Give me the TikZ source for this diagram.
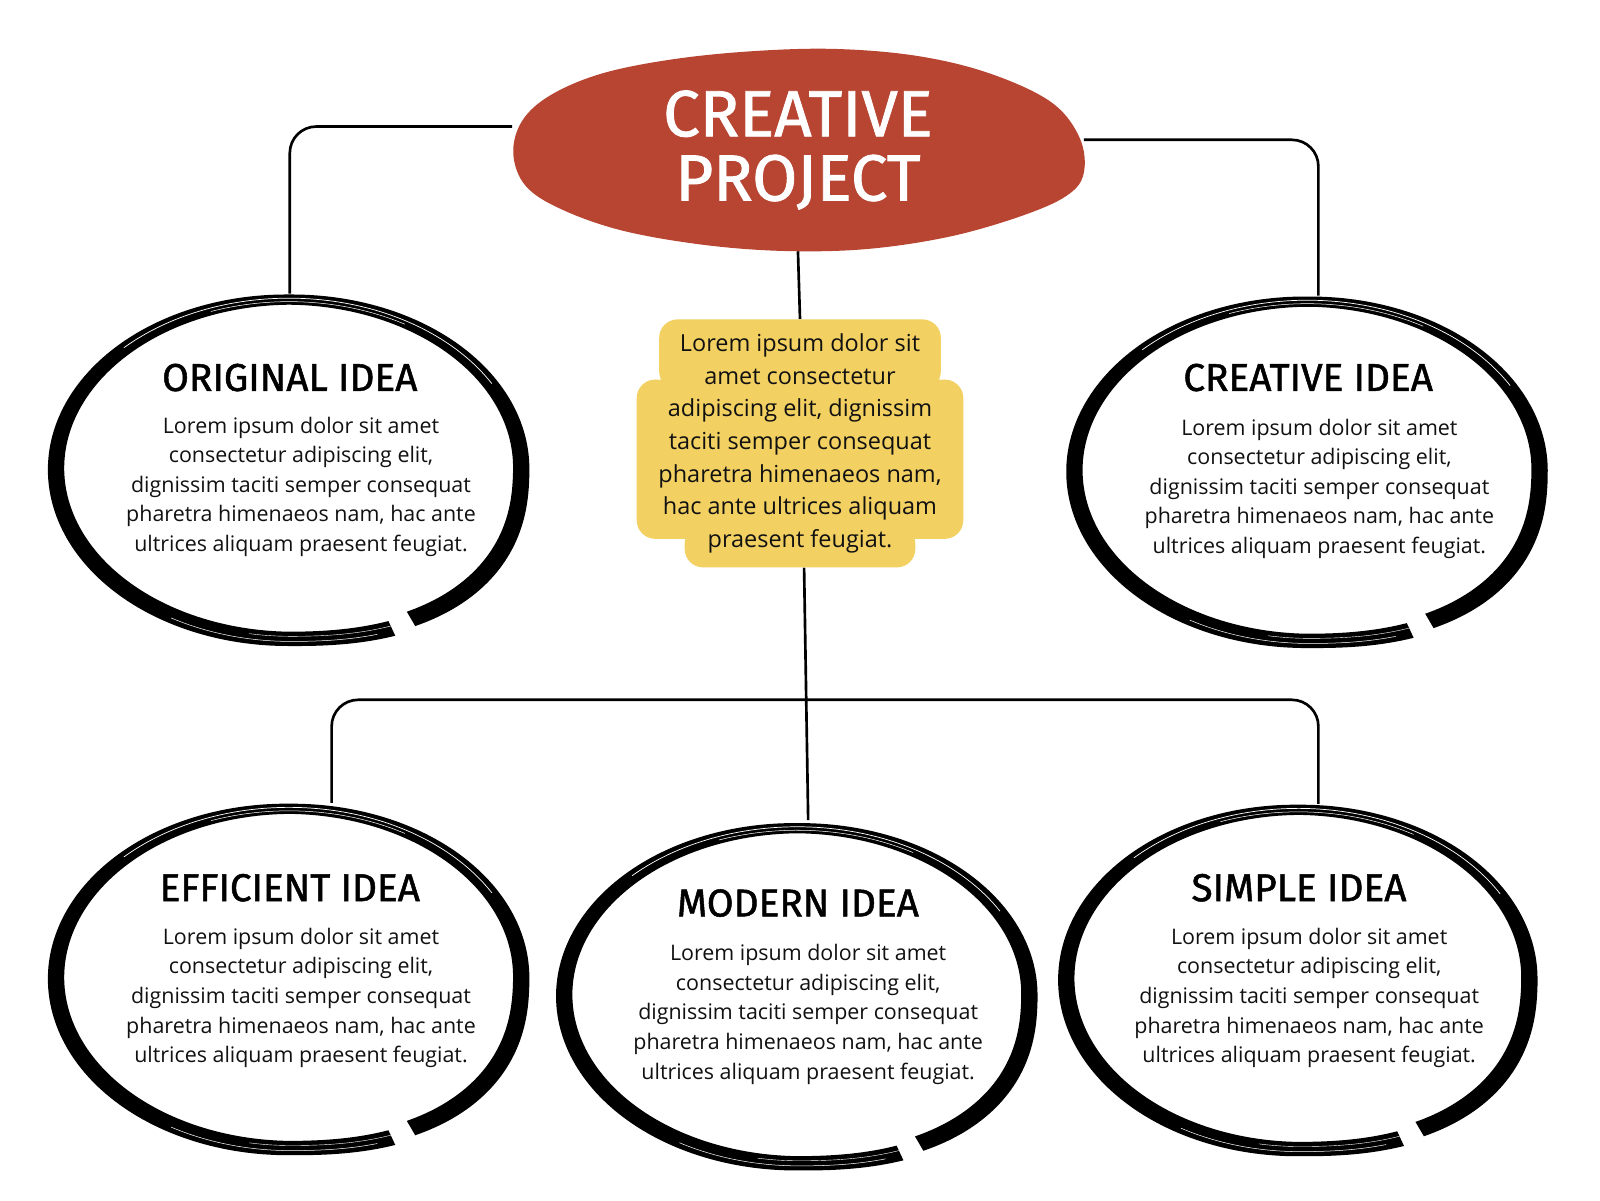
\documentclass[tikz,border=0pt]{standalone}
\usepackage{fontspec}
\setmainfont{Open Sans}
\newfontfamily\ttlfont[FakeBold=1.3]{Fira Sans}
\usetikzlibrary{shapes.geometric}
\definecolor{blobred}{HTML}{B84532}
\definecolor{boxyellow}{HTML}{F2D062}
\definecolor{inkblack}{HTML}{111111}
\newcommand\brushring[4]{%
  \fill[black] plot[domain=68:422,samples=240,variable=\t]
   ({#1+(#3*rsp(\t)+rhw(\t))*rfx(\t)},{#2+(#4*rsp(\t)+rhw(\t))*rfy(\t)})
   -- plot[domain=422:68,samples=240,variable=\t]
   ({#1+(#3*rsp(\t)-rhw(\t))*rfx(\t)},{#2+(#4*rsp(\t)-rhw(\t))*rfy(\t)})
   -- cycle;
  \draw[white,line width=0.7pt] plot[domain=225:330,samples=80,variable=\t]
   ({#1+(#3*rsp(\t)+1.4)*rfx(\t)},{#2+(#4*rsp(\t)+1.4)*rfy(\t)});
  \draw[white,line width=0.5pt] plot[domain=250:300,samples=40,variable=\t]
   ({#1+(#3*rsp(\t)-2)*rfx(\t)},{#2+(#4*rsp(\t)-2)*rfy(\t)});
  \draw[white,line width=0.5pt] plot[domain=72:120,samples=40,variable=\t]
   ({#1+(#3*rsp(\t)+2.5)*rfx(\t)},{#2+(#4*rsp(\t)+2.5)*rfy(\t)});
  \draw[white,line width=0.4pt] plot[domain=68:100,samples=30,variable=\t]
   ({#1+(#3*rsp(\t)-2.5)*rfx(\t)},{#2+(#4*rsp(\t)-2.5)*rfy(\t)});
}
\begin{document}
\begin{tikzpicture}[x=1pt,y=-1pt,
  declare function={
    rpw(\t)=1-0.15*(cos(\t)>0)*(sin(\t)>0);
    rfx(\t)=cos(\t)*(abs(cos(\t))+0.001)^(rpw(\t)-1);
    rfy(\t)=sin(\t)*(abs(sin(\t))+0.001)^(rpw(\t)-1);
    rsp(\t)=1+0.02*(422-\t)/354;
    rhw(\t)=6+2*abs(cos(\t))+sin(\t);
  },
  conn/.style={line width=2.6pt,black,rounded corners=26pt},
  ringnode/.style={ellipse,inner sep=0pt,minimum width=468pt,minimum height=342pt},
  ttl/.style={font=\ttlfont\fontsize{38}{40}\selectfont,inner sep=0pt,text=black},
  body/.style={font=\fontsize{21}{29}\selectfont,align=center,inner sep=0pt,text=inkblack}]
\fill[white] (0,0) rectangle (1568,1176);
\useasboundingbox (0,0) rectangle (1568,1176);

% nodes (invisible frames)
\node[ellipse,inner sep=0pt,minimum width=560pt,minimum height=198pt] (proj) at (782,147) {};
\node[inner sep=0pt,minimum width=320pt,minimum height=243pt] (desc) at (784,434.5) {};
\node[ringnode] (orig) at (284,459) {};
\node[ringnode] (crea) at (1282,461) {};
\node[ringnode] (effi) at (284,958) {};
\node[ringnode] (mode) at (782,975) {};
\node[ringnode,minimum width=465pt] (simp) at (1273,959) {};

% connectors
\draw[conn] ([yshift=23pt]proj.west) -| (orig.north);
\draw[conn] ([yshift=10pt]proj.east) -| ([xshift=10pt]crea.north);
\draw[conn] (proj.south) -- (desc.north);
\draw[conn] ([xshift=4pt]desc.south) -- ([xshift=10pt]mode.north);
\draw[conn] ([xshift=41pt]effi.north) -- ++(0,-101) -| ([xshift=19pt]simp.north);

% red blob
\fill[blobred] plot[smooth cycle,tension=0.6] coordinates {
 (503,150) (512,118) (540,93) (590,72) (660,58) (740,50) (820,48) (900,55)
 (970,72) (1030,100) (1058,135) (1062,170) (1045,192) (1000,212) (930,232)
 (850,244) (770,246) (690,240) (610,226) (550,205) (515,182)};
\node[font=\ttlfont\fontsize{64}{63}\selectfont,text=white,align=center,inner sep=0pt]
  (projtext) at (proj.center) {CREATIVE\\PROJECT};

% yellow box
\fill[boxyellow,rounded corners=18pt] (646,313) rectangle (922,382);
\fill[boxyellow,rounded corners=18pt] (624,372) rectangle (944,528);
\fill[boxyellow,rounded corners=18pt] (671,515) rectangle (897,556);
\node[font=\fontsize{23}{32}\selectfont,align=center,inner sep=0pt,text=inkblack]
  (desctext) at (desc.center) {Lorem ipsum dolor sit\\amet consectetur\\adipiscing elit, dignissim\\taciti semper consequat\\pharetra himenaeos nam,\\hac ante ultrices aliquam\\praesent feugiat.};

% brush rings
\brushring{284}{459}{226}{164}
\brushring{1282}{461}{226}{164}
\brushring{284}{958}{226}{164}
\brushring{782}{975}{226}{162}
\brushring{1273}{959}{225}{164}

% titles
\node[ttl] (origttl) at (284,370) {ORIGINAL IDEA};
\node[ttl] (creattl) at (1282,370) {CREATIVE IDEA};
\node[ttl] (effittl) at (284,870) {EFFICIENT IDEA};
\node[ttl] (modettl) at (782,885) {MODERN IDEA};
\node[ttl] (simpttl) at (1273,870) {SIMPLE IDEA};

% body texts
\node[body] (origbody) at (295,477) {Lorem ipsum dolor sit amet\\consectetur adipiscing elit,\\dignissim taciti semper consequat\\pharetra himenaeos nam, hac ante\\ultrices aliquam praesent feugiat.};
\node[body] (creabody) at (1293,479) {Lorem ipsum dolor sit amet\\consectetur adipiscing elit,\\dignissim taciti semper consequat\\pharetra himenaeos nam, hac ante\\ultrices aliquam praesent feugiat.};
\node[body] (effibody) at (295,978) {Lorem ipsum dolor sit amet\\consectetur adipiscing elit,\\dignissim taciti semper consequat\\pharetra himenaeos nam, hac ante\\ultrices aliquam praesent feugiat.};
\node[body] (modebody) at (792,994) {Lorem ipsum dolor sit amet\\consectetur adipiscing elit,\\dignissim taciti semper consequat\\pharetra himenaeos nam, hac ante\\ultrices aliquam praesent feugiat.};
\node[body] (simpbody) at (1283,978) {Lorem ipsum dolor sit amet\\consectetur adipiscing elit,\\dignissim taciti semper consequat\\pharetra himenaeos nam, hac ante\\ultrices aliquam praesent feugiat.};
\end{tikzpicture}
\end{document}
